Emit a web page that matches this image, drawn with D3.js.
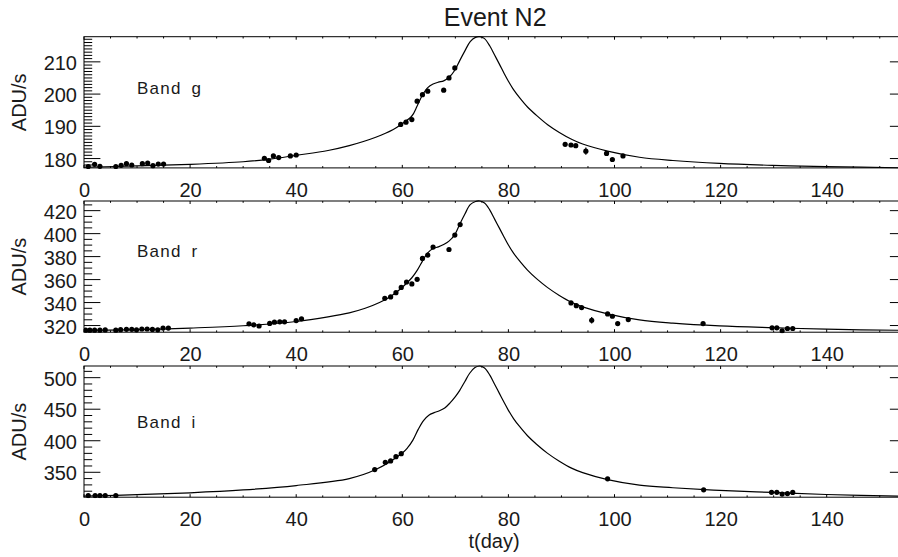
<!DOCTYPE html>
<html>
<head>
<meta charset="utf-8">
<script src="https://cdn.jsdelivr.net/npm/d3@7"></script>
<style>
  html, body { margin: 0; padding: 0; background: #fff; }
  svg { display: block; }
  text { font-family: "Liberation Sans", Arial, sans-serif; fill: #1a1a1a; }
</style>
</head>
<body>
<script>
// ---------------- DATA ----------------
const chartTitle = "Event N2";
const xLabel = "t(day)";
const yLabel = "ADU/s";
const bandNames = ["Band g", "Band r", "Band i"];

const xDomain = [0, 155];
const xMajorTicks = [0, 20, 40, 60, 80, 100, 120, 140];
const xMinorStep = 5;

// y-axis ranges and ticks per band
const gDomain = [177.1, 217.8];
const rDomain = [314.2, 428.4];
const iDomain = [310.5, 518.5];
const gMajorTicks = [180, 190, 200, 210];
const rMajorTicks = [320, 340, 360, 380, 400, 420];
const iMajorTicks = [350, 400, 450, 500];
const gMinorStep = 1, rMinorStep = 5, iMinorStep = 10;
// label anchor (data coords) for band names
const gLabelAt = [10, 200];
const rLabelAt = [10, 380];
const iLabelAt = [10, 420];

// observed points (t in days, flux in ADU/s, error)
const gT = [0.8,2,3,6,7,8,9,11,12,13,14,15, 34,34.8,35.7,36.7,38.9,40, 59.7,60.7,61.8,62.8,63.8,64.8,67.8,68.8,69.9, 90.7,91.8,92.7,94.6,98.5,99.6,101.6];
const gV = [177.5,178.2,177.6,177.5,177.9,178.4,178.0,178.4,178.6,177.8,178.3,178.3, 180.1,179.4,180.8,180.3,180.8,181.1, 190.6,191.3,192.1,197.8,199.8,200.9,201.2,205.0,208.1, 184.4,184.2,184.0,182.3,181.6,179.7,180.8];
const gE = [0.4,0.4,0.4,0.4,0.4,0.4,0.4,0.4,0.4,0.4,0.4,0.4, 0.4,0.4,0.4,0.4,0.4,0.4, 0.5,0.5,0.5,0.5,0.5,0.5,0.5,0.5,0.5, 0.5,0.5,0.5,1.1,0.5,0.5,0.5];

const rT = [0.3,1.1,2.0,3.0,4.0, 6.0,6.9,8.0,9.0,9.9,10.9,11.9,12.9,13.9,14.9,15.9, 31.1,32.0,33.0,35.0,35.9,36.9,37.8,40.0,41.0, 56.7,57.8,58.8,59.8,60.8,61.8,62.8,63.8,64.8,65.8,68.8,69.9,70.9, 91.8,92.8,93.8,95.7,98.7,99.6,100.6,102.6,116.7,129.7,130.6,131.6,132.6,133.6];
const rV = [316.0,316.0,316.0,316.0,316.2, 316.0,316.4,316.7,316.7,316.3,317.0,317.0,316.6,316.3,317.8,317.8, 321.5,320.6,319.6,321.8,322.9,323.2,323.2,324.3,325.8, 343.7,344.9,348.6,353.2,357.9,356.2,360.2,378.4,381.3,388.3,386.2,398.7,407.9, 339.7,337.3,335.6,324.6,330.1,328.1,321.7,325.2,321.7,318.0,318.0,315.4,317.4,317.4];
const rE = [0.8,0.8,0.8,0.8,0.8, 0.8,0.8,0.8,0.8,0.8,0.8,0.8,0.8,0.8,0.8,0.8, 0.9,0.9,0.9,0.9,0.9,0.9,0.9,0.9,0.9, 1,1,1,1,1,1,1,1,1,1,1,1,1, 1,1,1,2.9,1,1,1,1,1,1,1,1,1,1];

const iT = [0.8,2.1,3.0,4.0,6.0, 54.8,56.8,57.8,58.8,59.8, 98.7,116.8,129.6,130.6,131.6,132.6,133.6];
const iV = [313,313,313,313,313, 354.3,365.8,368.0,374.8,379.5, 339.6,322.2,318.2,318.2,315.4,316.2,318.0];
const iE = [1.5,1.5,1.5,1.5,1.5, 1.5,1.5,1.5,1.5,1.5, 1.5,1.5,1.5,1.5,1.5,1.5,1.5];

// model light curves
const gCurveT = [0,10,20,30,35,40,46,50,55,58.3,59.7,61.8,62.8,63.8,64.8,65.8,66.8,67.8,68.8,69.9,70.8,71.8,72.8,73.8,74.6,75.5,76.5,77.4,78.3,79.2,80.0,81.0,82.1,83.6,85.3,87.4,89.6,92.0,94.0,98.7,104.7,111,119.8,129.8,139.9,155];
const gCurveV = [177.3,177.7,178.2,179.0,179.8,181.0,182.5,184.0,186.6,189.0,190.5,193.2,196.3,199.7,202.0,203.1,203.7,204.1,205.2,207.4,210.3,213.4,216.3,217.6,217.8,217.2,214.9,212.1,209.3,206.4,204.0,201.3,198.9,196.0,193.4,190.5,188.1,185.9,184.5,182.3,180.4,179.4,178.5,177.9,177.5,177.1];

const rCurveT = [0,10,20,30,40,46,50,53,55.7,57.8,59.8,61.8,62.8,63.8,64.8,65.8,66.8,67.8,68.8,69.9,70.8,71.8,72.8,73.8,74.6,75.5,76.5,77.4,78.3,79.2,80.0,81.0,82.1,83.6,85.3,87.4,89.6,92.0,94.0,98.7,104.7,111,119.8,129.8,139.9,155];
const rCurveV = [315.9,316.4,317.8,319.8,323.5,327.5,331.0,335.0,340.0,345.3,352.4,361.6,368.0,376.1,383.3,387.0,388.5,390.5,393.5,399.2,407.9,417.1,425.2,428.0,428.4,426.7,420.5,412.6,404.8,396.9,390.1,382.8,376.2,368.2,360.8,353.0,346.2,340.0,336.3,330.2,324.9,322.1,319.7,318.1,316.8,315.8];

const iCurveT = [0,10,20,30,40,50,55,60,61,62,63,64,65,66,67,68,69,70,70.8,71.8,72.7,73.7,74.6,75.5,76.5,77.4,78.3,79.2,80.0,81.0,82.1,83.6,85.3,87.4,89.6,92.0,94.0,98.7,104.7,111,119.8,129.8,139.9,155];
const iCurveV = [312.1,314.5,317.5,322.0,329.0,340.0,354.3,380.6,389.0,401.0,418.0,432.0,440.5,444.5,447.5,452.0,460.0,470.0,479.5,494.0,507.0,516.0,518.5,515.4,504.0,489.6,475.1,460.6,448.2,434.8,422.6,407.9,394.5,380.0,367.6,356.2,349.4,338.3,329.5,325.5,321.3,318.0,314.8,311.8];

// ---------------- DRAW ----------------
const W = 898, H = 557;
const left = 84, pxPerDay = 5.305;
const panelTops = [36.7, 201.0, 366.0];
const panelH = 131.2;

const svg = d3.select("body").append("svg").attr("width", W).attr("height", H);
const x = d3.scaleLinear().domain(xDomain).range([left, left + (xDomain[1]-xDomain[0]) * pxPerDay]);
const xr = x.range();

const panels = [
  {name: bandNames[0], dom: gDomain, major: gMajorTicks, step: gMinorStep, lab: gLabelAt, t: gT, v: gV, e: gE, ct: gCurveT, cv: gCurveV},
  {name: bandNames[1], dom: rDomain, major: rMajorTicks, step: rMinorStep, lab: rLabelAt, t: rT, v: rV, e: rE, ct: rCurveT, cv: rCurveV},
  {name: bandNames[2], dom: iDomain, major: iMajorTicks, step: iMinorStep, lab: iLabelAt, t: iT, v: iV, e: iE, ct: iCurveT, cv: iCurveV},
];

const yMajLen = 16.4, yMinLen = 8.2, xMajLen = 3, xMinLen = 1.8;
const fontFam = '"Liberation Sans", Arial, sans-serif';

panels.forEach((p, k) => {
  const top = panelTops[k], bot = top + panelH;
  const y = d3.scaleLinear().domain(p.dom).range([bot, top]);
  const g = svg.append("g");
  const clipId = "clip" + k;
  svg.append("clipPath").attr("id", clipId).append("rect")
    .attr("x", xr[0]).attr("y", top - 1).attr("width", xr[1] - xr[0]).attr("height", panelH + 2);

  // frame
  g.append("rect").attr("x", xr[0]).attr("y", top).attr("width", xr[1]-xr[0]).attr("height", panelH)
    .attr("fill", "none").attr("stroke", "#000").attr("stroke-width", 1);

  // x ticks (bottom & top)
  const xMinor = d3.range(xDomain[0], xDomain[1] + 0.001, xMinorStep).filter(v => !xMajorTicks.includes(v));
  const xt = g.append("g").attr("stroke", "#000").attr("stroke-width", 1);
  xMajorTicks.forEach(v => {
    xt.append("line").attr("x1", x(v)).attr("x2", x(v)).attr("y1", bot).attr("y2", bot - xMajLen);
    xt.append("line").attr("x1", x(v)).attr("x2", x(v)).attr("y1", top).attr("y2", top + xMajLen);
  });
  xMinor.forEach(v => {
    xt.append("line").attr("x1", x(v)).attr("x2", x(v)).attr("y1", bot).attr("y2", bot - xMinLen);
    xt.append("line").attr("x1", x(v)).attr("x2", x(v)).attr("y1", top).attr("y2", top + xMinLen);
  });
  // x labels via d3 axis (tick lines drawn above)
  const xAxis = d3.axisBottom(x).tickValues(xMajorTicks).tickSize(0).tickPadding(0).tickFormat(d3.format("d"));
  const xa = g.append("g").attr("transform", `translate(0,${bot})`).call(xAxis);
  xa.select(".domain").remove();
  xa.selectAll("text").attr("dy", null).attr("y", 29).style("font-size", "20px")
    .style("font-family", fontFam).attr("fill", "#1a1a1a");

  // y ticks (left & right)
  const yMinor = d3.range(Math.ceil(p.dom[0] / p.step) * p.step, p.dom[1], p.step).filter(v => !p.major.includes(v));
  const yt = g.append("g").attr("stroke", "#000").attr("stroke-width", 1);
  p.major.forEach(v => {
    yt.append("line").attr("x1", xr[0]).attr("x2", xr[0] + yMajLen).attr("y1", y(v)).attr("y2", y(v));
    yt.append("line").attr("x1", xr[1]).attr("x2", xr[1] - yMajLen).attr("y1", y(v)).attr("y2", y(v));
  });
  yMinor.forEach(v => {
    yt.append("line").attr("x1", xr[0]).attr("x2", xr[0] + yMinLen).attr("y1", y(v)).attr("y2", y(v));
    yt.append("line").attr("x1", xr[1]).attr("x2", xr[1] - yMinLen).attr("y1", y(v)).attr("y2", y(v));
  });
  const yAxis = d3.axisLeft(y).tickValues(p.major).tickSize(0).tickPadding(7).tickFormat(d3.format("d"));
  const ya = g.append("g").attr("transform", `translate(${xr[0]},0)`).call(yAxis);
  ya.select(".domain").remove();
  ya.selectAll("text").attr("dy", "0.38em").style("font-size", "20px")
    .style("font-family", fontFam).attr("fill", "#1a1a1a");

  // y label
  g.append("text").attr("transform", `translate(26,${(top+bot)/2}) rotate(-90)`)
    .attr("text-anchor", "middle").style("font-size", "20px").text(yLabel);

  // band label
  g.append("text").attr("x", x(p.lab[0])).attr("y", y(p.lab[1]))
    .style("font-size", "17px").style("letter-spacing", "1.2px").style("word-spacing", "4px")
    .text(p.name);

  // model curve
  const pts = p.ct.map((t, i) => [t, p.cv[i]]);
  g.append("path").datum(pts)
    .attr("clip-path", `url(#${clipId})`)
    .attr("fill", "none").attr("stroke", "#000").attr("stroke-width", 1.2)
    .attr("d", d3.line().x(d => x(d[0])).y(d => y(d[1])).curve(d3.curveCatmullRom.alpha(0.5)));

  // data
  const data = p.t.map((t, i) => ({t, v: p.v[i], e: p.e[i]}));
  const dg = g.append("g").attr("clip-path", `url(#${clipId})`);
  dg.selectAll("line.err").data(data).join("line").attr("class", "err")
    .attr("x1", d => x(d.t)).attr("x2", d => x(d.t))
    .attr("y1", d => y(d.v - d.e)).attr("y2", d => y(d.v + d.e))
    .attr("stroke", "#000").attr("stroke-width", 1.2);
  dg.selectAll("circle").data(data).join("circle")
    .attr("cx", d => x(d.t)).attr("cy", d => y(d.v)).attr("r", 2.6).attr("fill", "#000");
});

// title and x title
svg.append("text").attr("x", (xr[0] + xr[1]) / 2).attr("y", 26).attr("text-anchor", "middle")
  .style("font-size", "25px").text(chartTitle);
svg.append("text").attr("x", 494).attr("y", 548).attr("text-anchor", "middle")
  .style("font-size", "20px").text(xLabel);
</script>
</body>
</html>
